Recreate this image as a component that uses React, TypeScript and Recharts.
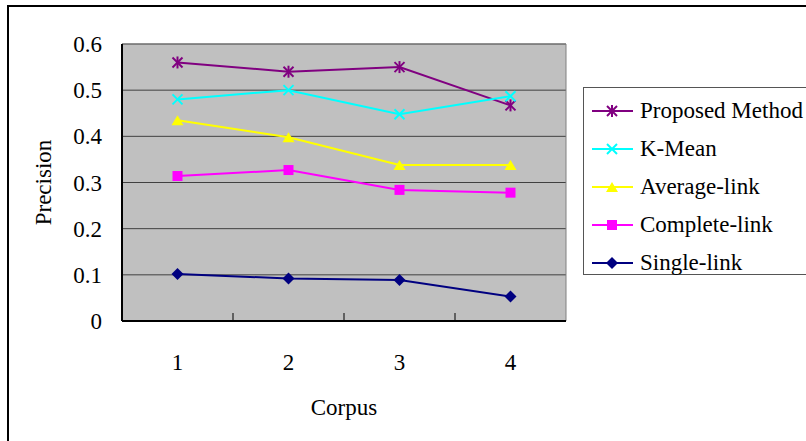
import React from 'react';
import { LineChart, Line, XAxis, YAxis, CartesianGrid, Legend, ReferenceArea } from 'recharts';

const corpus = [1, 2, 3, 4];
const proposedMethod = [0.56, 0.54, 0.55, 0.467];
const kMean = [0.48, 0.5, 0.448, 0.487];
const averageLink = [0.435, 0.398, 0.338, 0.338];
const completeLink = [0.314, 0.327, 0.284, 0.278];
const singleLink = [0.102, 0.092, 0.089, 0.053];

const xTicks = [1, 1.5, 2, 2.5, 3, 3.5, 4];
const yTicks = [0, 0.1, 0.2, 0.3, 0.4, 0.5, 0.6];

const FONT = '"Liberation Serif", "Times New Roman", serif';
const textStyle = { fontFamily: FONT, fontSize: 23, fill: '#000' };

const series = [
  { key: 'proposed', name: 'Proposed Method', color: '#800080', shape: 'star' },
  { key: 'kmean', name: 'K-Mean', color: '#00FFFF', shape: 'x' },
  { key: 'average', name: 'Average-link', color: '#FFFF00', shape: 'triangle' },
  { key: 'complete', name: 'Complete-link', color: '#FF00FF', shape: 'square' },
  { key: 'single', name: 'Single-link', color: '#000080', shape: 'diamond' },
];

const data = corpus.map((c, i) => ({
  corpus: c,
  proposed: proposedMethod[i],
  kmean: kMean[i],
  average: averageLink[i],
  complete: completeLink[i],
  single: singleLink[i],
}));

const Mark = ({ shape, color, cx, cy }: any) => {
  switch (shape) {
    case 'star':
      return (
        <g stroke={color} strokeWidth={2}>
          <line x1={cx - 5} y1={cy - 5} x2={cx + 5} y2={cy + 5} />
          <line x1={cx - 5} y1={cy + 5} x2={cx + 5} y2={cy - 5} />
          <line x1={cx} y1={cy - 6} x2={cx} y2={cy + 6} />
        </g>
      );
    case 'x':
      return (
        <g stroke={color} strokeWidth={2}>
          <line x1={cx - 5} y1={cy - 5} x2={cx + 5} y2={cy + 5} />
          <line x1={cx - 5} y1={cy + 5} x2={cx + 5} y2={cy - 5} />
        </g>
      );
    case 'triangle':
      return <polygon points={`${cx},${cy - 5} ${cx + 6},${cy + 5} ${cx - 6},${cy + 5}`} fill={color} />;
    case 'square':
      return <rect x={cx - 5} y={cy - 5} width={10} height={10} fill={color} />;
    default:
      return <polygon points={`${cx},${cy - 6} ${cx + 6},${cy} ${cx},${cy + 6} ${cx - 6},${cy}`} fill={color} />;
  }
};

const makeDot = (shape: string, color: string) => (p: any) => (
  <g key={`${shape}-${p.index}`}>
    <Mark shape={shape} color={color} cx={p.cx} cy={p.cy} />
  </g>
);

// category labels sit on the points, tick marks sit between them (pointing up)
const XTick = (props: any) => {
  const { x, y, payload } = props;
  const v = payload.value;
  if (Number.isInteger(v)) {
    return (
      <text x={x} y={y + 49} textAnchor="middle" style={textStyle}>
        {v}
      </text>
    );
  }
  return <line x1={x} x2={x} y1={y - 8} y2={y} stroke="#000" strokeWidth={1} />;
};

const LegendBox = () => (
  <div
    style={{
      position: 'relative',
      width: 260,
      height: 188,
      border: '1px solid #555',
      background: '#fff',
      boxSizing: 'border-box',
      fontFamily: FONT,
      fontSize: 23,
      color: '#000',
    }}
  >
    {series.map((s, i) => (
      <div
        key={s.key}
        style={{
          position: 'absolute',
          left: 8,
          top: 4 + i * 38,
          height: 38,
          display: 'flex',
          alignItems: 'center',
          whiteSpace: 'nowrap',
        }}
      >
        <svg width={48} height={38} style={{ display: 'block' }}>
          <line x1={0} x2={41} y1={19} y2={19} stroke={s.color} strokeWidth={2} />
          <Mark shape={s.shape} color={s.color} cx={20} cy={19} />
        </svg>
        <span>{s.name}</span>
      </div>
    ))}
  </div>
);

export default function App() {
  return (
    <div
      style={{
        position: 'absolute',
        left: 0,
        top: 0,
        width: 806,
        height: 441,
        overflow: 'hidden',
        background: '#fff',
        fontFamily: FONT,
      }}
    >
      <div
        style={{
          position: 'absolute',
          left: 7,
          top: 5,
          width: 900,
          height: 600,
          borderLeft: '2px solid #000',
          borderTop: '2px solid #000',
        }}
      />
      <div style={{ position: 'absolute', left: 0, top: 0 }}>
        <LineChart
          width={806}
          height={441}
          data={data}
          margin={{ top: 44, right: 240, bottom: 0, left: 22 }}
          style={{ fontFamily: FONT }}
        >
          <CartesianGrid vertical={false} fill="#C0C0C0" stroke="#404040" strokeWidth={1} />
          <ReferenceArea x1={0.5} x2={4.5} y1={0} y2={0.6} fill="none" stroke="#808080" strokeWidth={1} />
          <XAxis
            dataKey="corpus"
            type="number"
            domain={[0.5, 4.5]}
            ticks={xTicks}
            interval={0}
            height={120}
            tickSize={0}
            tickMargin={0}
            tickLine={false}
            tick={<XTick />}
            axisLine={{ stroke: '#000', strokeWidth: 2 }}
            label={{ value: 'Corpus', position: 'insideBottom', offset: 26, style: textStyle }}
          />
          <YAxis
            type="number"
            domain={[0, 0.6]}
            ticks={yTicks}
            interval={0}
            width={100}
            tickSize={0}
            tickMargin={20}
            tickLine={false}
            tickFormatter={(v: number) => (v === 0 ? '0' : v.toFixed(1))}
            tick={{ style: textStyle }}
            axisLine={{ stroke: '#000', strokeWidth: 2 }}
            label={{
              value: 'Precision',
              angle: -90,
              position: 'insideLeft',
              offset: 21,
              style: { ...textStyle, textAnchor: 'middle' },
            }}
          />
          <Legend
            layout="vertical"
            align="center"
            verticalAlign="middle"
            wrapperStyle={{ left: 583, top: 87, width: 260, height: 188 }}
            content={<LegendBox />}
          />
          {series.map((s) => (
            <Line
              key={s.key}
              dataKey={s.key}
              name={s.name}
              stroke={s.color}
              strokeWidth={2}
              dot={makeDot(s.shape, s.color)}
              isAnimationActive={false}
            />
          ))}
        </LineChart>
      </div>
    </div>
  );
}
